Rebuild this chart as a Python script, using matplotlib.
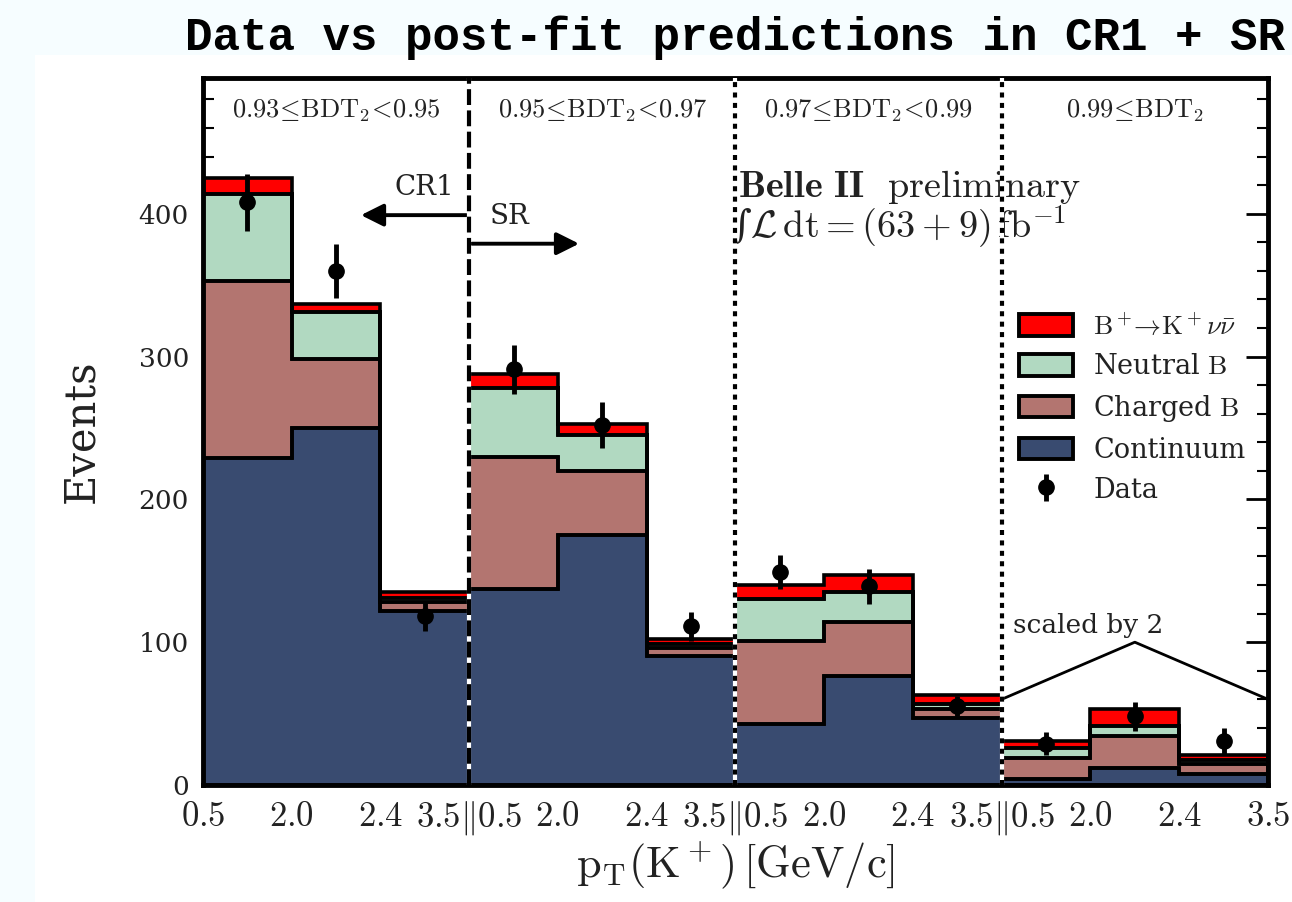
import numpy as np
import matplotlib
matplotlib.use("Agg")
import matplotlib.pyplot as plt
from matplotlib.patches import Rectangle

plt.rcParams["font.family"] = ["DejaVu Serif"]
plt.rcParams["mathtext.fontset"] = "cm"

# 12 bins: 4 BDT2 regions x 3 pT(K+) bins; last region drawn scaled by 2
continuum = [229, 250, 122, 137, 175, 90, 43, 76, 47, 2.0, 6.0, 3.75]
charged_b = [124, 48, 6, 93, 45, 6, 58, 38, 6, 7.5, 11.0, 3.5]
neutral_b = [61, 33, 3, 48, 25, 3, 29, 21, 4, 3.5, 3.5, 1.5]
signal = [11, 6, 4, 10, 8, 3, 10, 12, 6, 2.5, 6.0, 1.75]
data = [408, 360, 118, 291, 252, 111, 149, 139, 55, 14.5, 24.0, 15.5]
data_err = [20, 19, 10, 17, 16, 10, 12, 12, 7, 4.0, 5.0, 4.5]
scale = [1, 1, 1, 1, 1, 1, 1, 1, 1, 2, 2, 2]

tick_labels = [r"$0.5$", r"$2.0$", r"$2.4$", r"$3.5\Vert0.5$", r"$2.0$", r"$2.4$", r"$3.5\Vert0.5$",
               r"$2.0$", r"$2.4$", r"$3.5\Vert0.5$", r"$2.0$", r"$2.4$", r"$3.5$"]
region_labels = [r"$0.93\!\leq\!\mathrm{BDT}_2\!<\!0.95$", r"$0.95\!\leq\!\mathrm{BDT}_2\!<\!0.97$",
                 r"$0.97\!\leq\!\mathrm{BDT}_2\!<\!0.99$", r"$0.99\!\leq\!\mathrm{BDT}_2$"]

colors = {"cont": "#394b70", "charged": "#b37570", "neutral": "#b1d9c1", "sig": "#ff0000"}

edges = np.arange(13)
centers = edges[:-1] + 0.5
sc = np.array(scale, dtype=float)
layers = [np.array(v, dtype=float) * sc for v in (continuum, charged_b, neutral_b, signal)]
fills = [colors["cont"], colors["charged"], colors["neutral"], colors["sig"]]

fig = plt.figure(figsize=(12.92, 9.02), dpi=100, facecolor="#f6fdff")
fig.patches.append(Rectangle((35 / 1292, 0), 1, 1 - 55 / 902, transform=fig.transFigure,
                             facecolor="white", edgecolor="none", zorder=-10))
ax = fig.add_axes([0.157, 0.1297, 0.8244, 0.7838])

base = np.zeros(12)
for vals, fc in zip(layers, fills):
    top = base + vals
    ax.stairs(top, edges, baseline=base, fill=True, facecolor=fc, edgecolor="none", zorder=2)
    ax.stairs(top, edges, baseline=base, fill=False, color="black", lw=2.6, zorder=3)
    base = top

d = np.array(data) * sc
de = np.array(data_err) * sc
ax.errorbar(centers, d, yerr=de, fmt="o", color="black", ms=11, elinewidth=3.5, capsize=0, zorder=6)

# region separators
ax.axvline(3, color="white", lw=3, zorder=4)
ax.axvline(3, color="black", lw=3, ls=(0, (3.8, 1.3)), zorder=5)
for xs in (6, 9):
    ax.axvline(xs, color="white", lw=3, zorder=4)
    ax.axvline(xs, color="black", lw=3, ls=(0, (1.2, 1.3)), zorder=5)

for i, lab in enumerate(region_labels):
    ax.text(1.5 + 3 * i, 472, lab, ha="center", va="center", fontsize=19, color="#222222")

# CR1 / SR arrows
ax.annotate("", xy=(1.75, 399), xytext=(3, 399),
            arrowprops=dict(arrowstyle="-|>", color="black", lw=2.8, mutation_scale=34))
ax.annotate("", xy=(4.27, 379), xytext=(3, 379),
            arrowprops=dict(arrowstyle="-|>", color="black", lw=2.8, mutation_scale=34))
ax.text(2.5, 418, "CR1", ha="center", va="center", fontsize=20, color="#222222")
ax.text(3.45, 398, "SR", ha="center", va="center", fontsize=20, color="#222222")

ax.text(6.03, 412, r"$\mathbf{Belle\ II}$  $\mathrm{preliminary}$", ha="left", va="baseline",
        fontsize=27.5, color="#222222")
ax.text(5.95, 383, r"∫$\mathcal{L}\,\mathrm{dt}=(63+9)\,\mathrm{fb}^{-1}$", ha="left",
        va="baseline", fontsize=27.5, color="#222222")

# scaled-by-2 marker
ax.plot([9, 10.5, 12], [60, 100, 60], color="black", lw=2, zorder=3)
ax.text(9.97, 103, "scaled by 2", ha="center", va="bottom", fontsize=19, color="#222222")

# legend
handles = [
    Rectangle((0, 0), 1, 1, facecolor=colors["sig"], edgecolor="black", lw=2.8),
    Rectangle((0, 0), 1, 1, facecolor=colors["neutral"], edgecolor="black", lw=2.8),
    Rectangle((0, 0), 1, 1, facecolor=colors["charged"], edgecolor="black", lw=2.8),
    Rectangle((0, 0), 1, 1, facecolor=colors["cont"], edgecolor="black", lw=2.8),
    ax.errorbar([], [], yerr=[], fmt="o", color="black", ms=11, elinewidth=3.5),
]
labels = [r"$\mathrm{B}^+\!\!\to\!\mathrm{K}^+\nu\bar{\nu}$", r"Neutral $\mathrm{B}$",
          r"Charged $\mathrm{B}$", "Continuum", "Data"]
ax.legend(handles, labels, loc="upper right", bbox_to_anchor=(0.989, 0.684), frameon=False,
          fontsize=19.5, handlelength=2.0, handleheight=0.85, labelspacing=0.47,
          handletextpad=0.75, borderaxespad=0, labelcolor="#222222")

ax.set_xlim(0, 12)
ax.set_ylim(0, 495)
ax.set_xticks(edges)
ax.set_xticklabels(tick_labels, fontsize=25)
ax.set_yticks([0, 100, 200, 300, 400])
ax.set_yticks(np.arange(0, 495, 20), minor=True)
ax.tick_params(axis="y", which="major", direction="in", length=16, width=2, labelsize=19,
               left=True, right=True, pad=10, labelcolor="#222222")
ax.tick_params(axis="y", which="minor", direction="in", length=8, width=1.5, left=True, right=True)
ax.tick_params(axis="x", which="major", direction="in", length=14, width=2, pad=10,
               labelcolor="#222222")
for s in ax.spines.values():
    s.set_linewidth(3.5)

ax.set_ylabel("Events", fontsize=30, color="#222222", labelpad=26)
ax.set_xlabel(r"$\mathrm{p_T(K^+)\,[GeV/c]}$", fontsize=32, labelpad=2, color="#222222")
ax.set_title("Data vs post-fit predictions in CR1 + SR", fontsize=33, fontweight="bold",
             family="Liberation Mono", pad=20)

fig.savefig("out.png", dpi=100, facecolor=fig.get_facecolor())
